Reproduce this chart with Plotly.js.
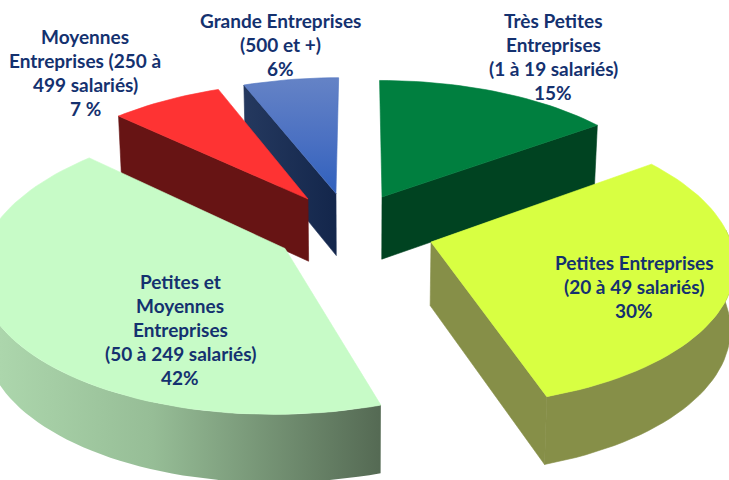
<!DOCTYPE html>
<html><head><meta charset="utf-8">
<script src="https://cdn.plot.ly/plotly-3.0.1.min.js"></script>
<style>html,body{margin:0;padding:0;background:#fff}#c{width:729px;height:480px}</style>
</head><body><div id="c"></div>
<script>
// --- data ---
const segments = ["Très Petites Entreprises","Petites Entreprises","Petites et Moyennes Entreprises","Moyennes Entreprises","Grande Entreprises"];
const shares = [15, 30, 42, 7, 6];
const labelTres = ["Très Petites","Entreprises","(1 à 19 salariés)","15%"];
const labelPetites = ["Petites Entreprises","(20 à 49 salariés)","30%"];
const labelPME = ["Petites et","Moyennes","Entreprises","(50 à 249 salariés)","42%"];
const labelMoyennes = ["Moyennes","Entreprises (250 à","499 salariés)","7 %"];
const labelGrande = ["Grande Entreprises","(500 et +)","6%"];

// --- style / projection ---
const P = {cx:360, cy:242, a:300, c:142.5, b:0.13, h:63.5};
const tips = [[382,197],[431,242],[285,248.5],[308,199],[336,193.5]];   // exploded apex of each slice
const TXT = "#14316f";

function toScreen(X,Z){const W=1+P.b*Z;return {x:P.cx+P.a*X/W,y:P.cy-P.c*Z/W,W};}
function lower(p){return {x:P.cx+(p.x-P.cx)*0.988,y:p.y+P.h/Math.sqrt(p.W)};}
function world(t){const v=(P.cy-t[1])/P.c;const Z=v/(1-P.b*v);const W=1+P.b*Z;return {X:(t[0]-P.cx)*W/P.a,Z};}

// angular extents from the shares
let acc=0;
const spans=shares.map(s=>{const st=acc;acc+=s*3.6;return [st,acc];});

function rim(i,th,r=1){const o=world(tips[i]);const a=th*Math.PI/180;return toScreen(o.X+r*Math.sin(a),o.Z+r*Math.cos(a));}
function arc(i,t0,t1,r=1){const n=Math.max(2,Math.ceil(Math.abs(t1-t0)/2));const out=[];for(let k=0;k<=n;k++)out.push(rim(i,t0+(t1-t0)*k/n,r));return out;}
function apex(i){const o=world(tips[i]);return toScreen(o.X,o.Z);}

function poly(pts,style){
  const t={type:'scatter',mode:'lines',x:pts.map(p=>p.x),y:pts.map(p=>p.y),fill:'toself',
    line:{width:0.6,color:style.line||style.color||'rgba(0,0,0,0)'},hoverinfo:'skip',showlegend:false};
  if(style.color)t.fillcolor=style.color;
  if(style.gradient)t.fillgradient=style.gradient;
  return t;
}
function topFace(i,style){return poly([apex(i),...arc(i,spans[i][0],spans[i][1]),apex(i)],style);}
function radialWall(i,th,style){const A=apex(i),E=rim(i,th);return poly([A,E,lower(E),lower(A),A],style);}
function outerWall(i,t0,t1,style){const up=arc(i,t0,t1);return poly([...up,...up.slice().reverse().map(lower)],style);}

const traces=[
  // Grande Entreprises (blue)
  radialWall(4,spans[4][0],{line:'#1c2f56',gradient:{type:'horizontal',start:242,stop:337,colorscale:[[0,'#25395f'],[1,'#13264b']]}}),
  topFace(4,{line:'#4d72c0',gradient:{type:'vertical',start:77,stop:195,colorscale:[[0,'#6583c6'],[0.55,'#4a70c2'],[1,'#2f60bd']]}}),
  // Moyennes (red)
  radialWall(3,spans[3][0],{color:'#671414'}),
  topFace(3,{color:'#fe3333'}),
  // Très Petites (dark green)
  radialWall(0,spans[0][1],{color:'#004321'}),
  topFace(0,{color:'#007f3f'}),
  // PME (pale green)
  outerWall(2,spans[2][0],275,{line:'rgba(0,0,0,0)',gradient:{type:'horizontal',start:0,stop:383,colorscale:[[0,'#acd6ac'],[0.4,'#96bd96'],[1,'#546953']]}}),
  topFace(2,{color:'#c7fbc7'}),
  // Petites (yellow-green)
  radialWall(1,spans[1][1],{color:'#868f48'}),
  outerWall(1,85,spans[1][1],{color:'#868f48'}),
  topFace(1,{color:'#d8ff42'})
];

function lines(arr,x,y0){return arr.map((t,k)=>({text:t,x:x,y:y0+k*24.2,xref:'x',yref:'y',showarrow:false,xanchor:'center',yanchor:'middle',
  font:{family:'Lato, sans-serif',size:19,color:TXT,weight:700}}));}

const layout={width:729,height:480,margin:{l:0,r:0,t:0,b:0},paper_bgcolor:'#fff',plot_bgcolor:'#fff',showlegend:false,
  xaxis:{range:[0,729],visible:false,fixedrange:true},
  yaxis:{range:[480,0],visible:false,fixedrange:true},
  annotations:[...lines(labelTres,553,20),...lines(labelPetites,634,262),...lines(labelPME,180,281),...lines(labelMoyennes,85,36),...lines(labelGrande,280,20)]};
Plotly.newPlot('c',traces,layout,{staticPlot:true,displayModeBar:false});
</script></body></html>
